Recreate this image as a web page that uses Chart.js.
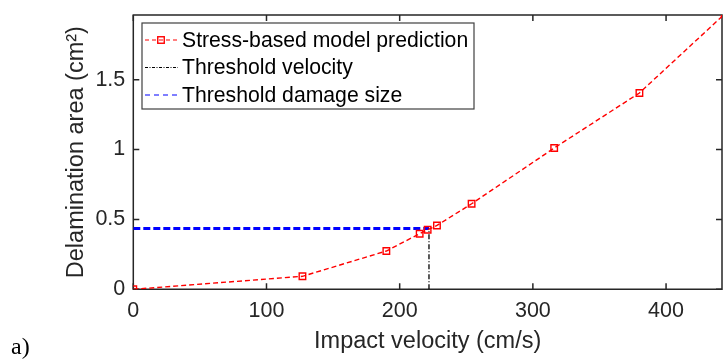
<!DOCTYPE html>
<html>
<head>
<meta charset="utf-8">
<script src="https://cdn.jsdelivr.net/npm/chart.js@4/dist/chart.umd.min.js"></script>
<style>
  html, body { margin: 0; padding: 0; background: #fff; overflow: hidden; width: 724px; height: 360px; }
  #wrap { width: 728px; height: 360px; }
</style>
</head>
<body>
<div id="wrap"><canvas id="c" width="728" height="360"></canvas></div>
<script>
// ---- data ----
const velocity = [0, 127, 190, 215, 221, 228, 254, 316, 380, 444];
const delamArea = [0, 0.093, 0.274, 0.398, 0.426, 0.457, 0.612, 1.011, 1.405, 1.97];
const thresholdVelocity = 222;
const thresholdDamage = 0.435;
const xTicks = [0, 100, 200, 300, 400];
const yTicks = [0, 0.5, 1, 1.5];
const xRange = [0, 442];
const yRange = [0, 1.963];
const seriesLabels = ['Stress-based model prediction', 'Threshold velocity', 'Threshold damage size'];
const xTitle = 'Impact velocity (cm/s)';
const yTitle = 'Delamination area (cm\u00B2)';
const panelLabel = 'a)';

const FONT = "'Liberation Sans', Arial, Helvetica, sans-serif";
const AXIS = '#262626';

const modelPts = velocity.map((v, i) => ({x: v, y: delamArea[i]}));

function zeroPad(s) { s.paddingTop = 0; s.paddingBottom = 0; s.paddingLeft = 0; s.paddingRight = 0; }

const boxTicksPlugin = {
  id: 'boxTicks',
  beforeDatasetsDraw(chart) {
    const {ctx, chartArea: a, scales} = chart;
    ctx.save();
    ctx.strokeStyle = AXIS;
    ctx.lineWidth = 1.5;
    ctx.beginPath();
    ctx.rect(a.left, a.top, a.right - a.left, a.bottom - a.top);
    ctx.stroke();
    const L = 6;
    ctx.beginPath();
    xTicks.forEach(v => {
      const px = scales.x.getPixelForValue(v);
      ctx.moveTo(px, a.bottom); ctx.lineTo(px, a.bottom - L);
      ctx.moveTo(px, a.top); ctx.lineTo(px, a.top + L);
    });
    yTicks.forEach(v => {
      const py = scales.y.getPixelForValue(v);
      ctx.moveTo(a.left, py); ctx.lineTo(a.left + L, py);
      ctx.moveTo(a.right, py); ctx.lineTo(a.right - L, py);
    });
    ctx.stroke();
    ctx.restore();
  },
  afterDraw(chart) {
    const {ctx, data} = chart;
    const ds = data.datasets;
    const bx = 142, by = 23, bw = 332, bh = 86;
    ctx.save();
    ctx.fillStyle = '#fff';
    ctx.fillRect(bx, by, bw, bh);
    ctx.strokeStyle = '#404040';
    ctx.lineWidth = 1.2;
    ctx.strokeRect(bx, by, bw, bh);
    const rows = [40, 67.5, 95];
    ctx.font = '21.2px ' + FONT;
    ctx.textBaseline = 'middle';
    ctx.textAlign = 'left';
    ds.forEach((d, i) => {
      const y = rows[i];
      ctx.save();
      ctx.strokeStyle = d.borderColor;
      ctx.lineWidth = 1.1;
      ctx.setLineDash(d.legendDash || d.borderDash || []);
      ctx.beginPath();
      ctx.moveTo(145, y); ctx.lineTo(178, y);
      ctx.stroke();
      ctx.restore();
      if (d.pointRadius) {
        ctx.save();
        ctx.strokeStyle = d.pointBorderColor;
        ctx.lineWidth = d.pointBorderWidth;
        const s = d.pointRadius * Math.SQRT1_2;
        ctx.strokeRect(161 - s, y - s, 2 * s, 2 * s);
        ctx.restore();
      }
      ctx.fillStyle = '#000';
      ctx.fillText(d.label, 182, y + 1);
    });
    ctx.font = "24px 'Liberation Serif', 'Times New Roman', serif";
    ctx.fillStyle = '#000';
    ctx.textBaseline = 'alphabetic';
    ctx.fillText(panelLabel, 11, 354);
    ctx.restore();
  }
};

new Chart(document.getElementById('c'), {
  type: 'scatter',
  data: {
    datasets: [
      {
        label: seriesLabels[0],
        data: modelPts,
        showLine: true,
        borderColor: '#ff0000',
        borderWidth: 1.4,
        borderDash: [5, 3],
        legendDash: [4, 3],
        pointStyle: 'rect',
        pointRadius: 4.6,
        pointBorderColor: '#ff0000',
        pointBackgroundColor: 'rgba(0,0,0,0)',
        pointBorderWidth: 1.4,
        fill: false
      },
      {
        label: seriesLabels[1],
        data: [{x: thresholdVelocity, y: 0}, {x: thresholdVelocity, y: thresholdDamage}],
        showLine: true,
        borderColor: '#000000',
        borderWidth: 1.3,
        borderDash: [5, 2, 1, 2],
        legendDash: [3, 1.5, 1, 1.5],
        pointRadius: 0,
        fill: false
      },
      {
        label: seriesLabels[2],
        data: [{x: 0, y: thresholdDamage}, {x: thresholdVelocity, y: thresholdDamage}],
        showLine: true,
        borderColor: '#0000ff',
        borderWidth: 3,
        borderDash: [7, 3],
        legendDash: [5, 4],
        pointRadius: 0,
        fill: false
      }
    ]
  },
  options: {
    responsive: false,
    devicePixelRatio: 1,
    animation: false,
    layout: { padding: { left: 0, right: 2, top: 15, bottom: 0 } },
    plugins: { legend: { display: false }, tooltip: { enabled: false } },
    scales: {
      x: {
        type: 'linear',
        min: xRange[0], max: xRange[1],
        afterBuildTicks: s => { s.ticks = xTicks.map(v => ({value: v})); },
        afterFit: s => { s.height = 70.7; zeroPad(s); },
        grid: { display: false, drawTicks: false },
        border: { display: false },
        ticks: { color: AXIS, font: { family: FONT, size: 21.5 }, padding: 9, maxRotation: 0, callback: v => String(v) },
        title: { display: true, text: xTitle, color: AXIS, font: { family: FONT, size: 23.5 }, padding: { top: 0, bottom: 4 } }
      },
      y: {
        type: 'linear',
        min: yRange[0], max: yRange[1],
        afterBuildTicks: s => { s.ticks = yTicks.map(v => ({value: v})); },
        afterFit: s => { s.width = 133.3; zeroPad(s); },
        grid: { display: false, drawTicks: false },
        border: { display: false },
        ticks: { color: AXIS, font: { family: FONT, size: 21.5 }, padding: 8, callback: v => String(v) },
        title: { display: true, text: yTitle, color: AXIS, font: { family: FONT, size: 23.5 }, padding: { top: 62, bottom: 0 } }
      }
    }
  },
  plugins: [boxTicksPlugin]
});
</script>
</body>
</html>
